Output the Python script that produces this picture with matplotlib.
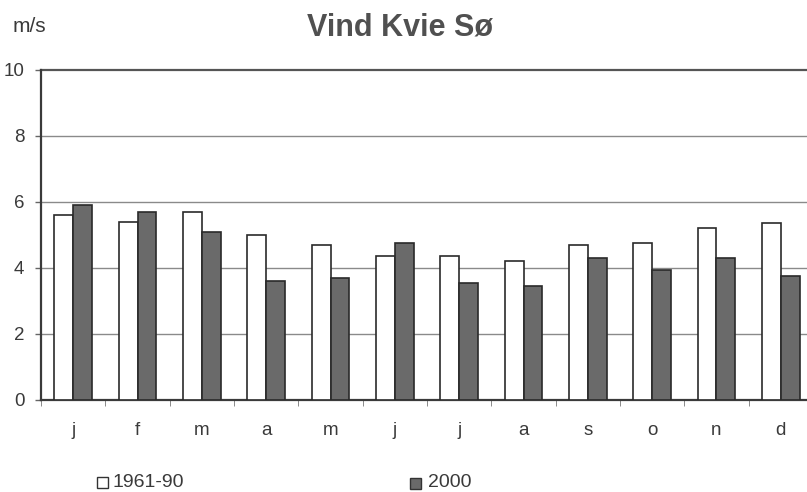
import matplotlib
matplotlib.use("Agg")
import matplotlib.pyplot as plt
from matplotlib.patches import Rectangle
import numpy as np

months = ["j", "f", "m", "a", "m", "j", "j", "a", "s", "o", "n", "d"]
normal_1961_90 = [5.6, 5.4, 5.7, 5.0, 4.7, 4.35, 4.35, 4.2, 4.7, 4.75, 5.2, 5.35]
year_2000 = [5.9, 5.7, 5.1, 3.6, 3.7, 4.75, 3.55, 3.45, 4.3, 3.95, 4.3, 3.75]
yticks = [0, 2, 4, 6, 8, 10]

plt.rcParams['font.family'] = ['Liberation Sans', 'DejaVu Sans']
txt = '#3a3a3a'
dark = '#6a6a6a'

W, H = 807, 492
fig = plt.figure(figsize=(W / 100, H / 100), dpi=100)
left, right, top, bottom = 41, 813, 70, 400
ax = fig.add_axes([left / W, 1 - bottom / H, (right - left) / W, (bottom - top) / H])

x = np.arange(len(months))
w = 0.295
ax.bar(x - w / 2, normal_1961_90, width=w, color='white', edgecolor='#2a2a2a', linewidth=1.2, zorder=3)
ax.bar(x + w / 2, year_2000, width=w, color=dark, edgecolor='#2a2a2a', linewidth=1.2, zorder=3)

ax.set_xlim(-0.5, len(months) - 0.5)
ax.set_ylim(0, 10)
ax.set_yticks(yticks)
ax.set_yticklabels([str(v) for v in yticks], fontsize=13.5, color=txt)
ax.set_xticks(x)
ax.set_xticklabels(months, fontsize=13.5, color=txt)
ax.tick_params(axis='x', length=0, pad=16)
ax.tick_params(axis='y', length=4, width=1, color='#666666', pad=8)
ax.set_xticks(np.arange(-0.5, len(months), 1), minor=True)
ax.tick_params(axis='x', which='minor', length=4, direction='out', color='#777777')

for v in yticks[1:-1]:
    ax.axhline(v, color='#8a8a8a', linewidth=1.0, zorder=1)
ax.axhline(10, color='#555555', linewidth=1.6, zorder=1, clip_on=False)

for s in ['top', 'right']:
    ax.spines[s].set_visible(False)
ax.spines['left'].set_color('#3a3a3a')
ax.spines['left'].set_linewidth(1.6)
ax.spines['bottom'].set_color('#3a3a3a')
ax.spines['bottom'].set_linewidth(1.6)

fig.text(400 / W, 1 - 36 / H, 'Vind Kvie Sø', ha='center', va='baseline', fontsize=22,
         fontweight='bold', color='#505050')
fig.text(13 / W, 1 - 32 / H, 'm/s', ha='left', va='baseline', fontsize=15, color=txt)

# legend
fig.patches.append(Rectangle((97 / W, 1 - 488 / H), 11 / W, 11 / H, transform=fig.transFigure,
                             facecolor='white', edgecolor='#333333', linewidth=1.0))
fig.text(112 / W, 1 - 487 / H, '1961-90', ha='left', va='baseline', fontsize=14, color=txt)
fig.patches.append(Rectangle((410 / W, 1 - 489 / H), 11 / W, 11 / H, transform=fig.transFigure,
                             facecolor=dark, edgecolor='#333333', linewidth=1.0))
fig.text(428 / W, 1 - 487 / H, '2000', ha='left', va='baseline', fontsize=14, color=txt)

fig.savefig('out.png', dpi=100)
